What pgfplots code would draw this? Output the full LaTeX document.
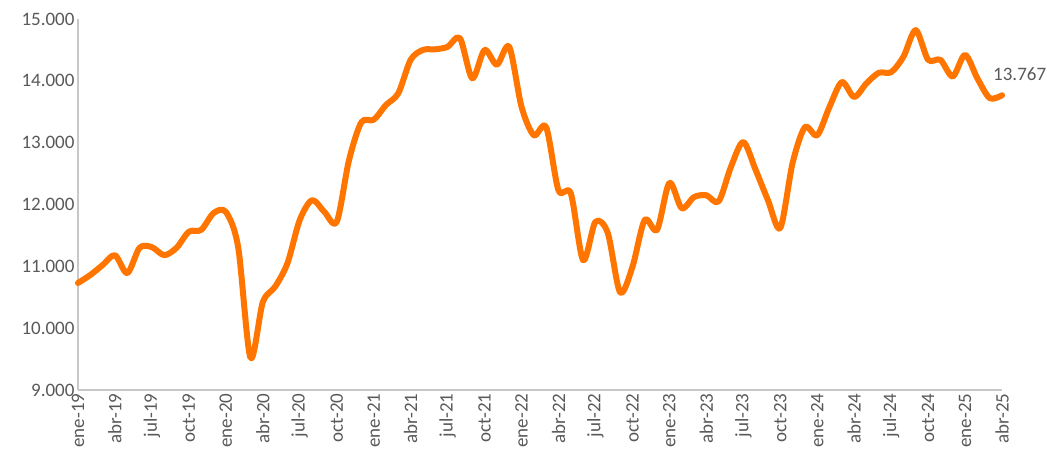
\documentclass[border=0pt]{standalone}
\usepackage{fontspec}
\setmainfont{Carlito}
\usepackage{pgfplots}
\pgfplotsset{compat=1.18}
\definecolor{lineorange}{RGB}{255,117,0}
\definecolor{axgray}{RGB}{200,200,200}
\definecolor{lblgray}{RGB}{89,89,89}
\begin{document}
\begin{tikzpicture}
\begin{axis}[
  scale only axis,
  width=924pt, height=371pt,
  xmin=0, xmax=75,
  ymin=9000, ymax=15000,
  axis lines*=left,
  axis line style={draw=axgray, line width=1.5pt},
  every tick/.style={draw=none},
  major tick length=0pt,
  scaled y ticks=false,
  ytick={9000,10000,11000,12000,13000,14000,15000},
  yticklabels={9.000,10.000,11.000,12.000,13.000,14.000,15.000},
  xtick={0,3,...,75},
  xticklabels={ene-19,abr-19,jul-19,oct-19,ene-20,abr-20,jul-20,oct-20,ene-21,abr-21,jul-21,oct-21,ene-22,abr-22,jul-22,oct-22,ene-23,abr-23,jul-23,oct-23,ene-24,abr-24,jul-24,oct-24,ene-25,abr-25},
  tick label style={font=\fontsize{19}{22}\selectfont, text=lblgray},
  x tick label style={rotate=90, anchor=east},
  clip=false,
]
\addplot[lineorange, line width=6pt, smooth, tension=0.5, line cap=round, line join=round] coordinates {
(0,10730) (1,10860) (2,11020) (3,11180) (4,10890) (5,11300) (6,11310) (7,11180) (8,11300) (9,11560) (10,11590) (11,11860)
(12,11880) (13,11310) (14,9520) (15,10420) (16,10670) (17,11050) (18,11750) (19,12070) (20,11880) (21,11720) (22,12720) (23,13330)
(24,13370) (25,13610) (26,13800) (27,14340) (28,14500) (29,14510) (30,14550) (31,14690) (32,14040) (33,14500) (34,14260) (35,14550)
(36,13580) (37,13120) (38,13250) (39,12230) (40,12180) (41,11100) (42,11720) (43,11540) (44,10580) (45,10990) (46,11750) (47,11590)
(48,12350) (49,11940) (50,12120) (51,12150) (52,12050) (53,12610) (54,13010) (55,12560) (56,12070) (57,11620) (58,12670) (59,13250)
(60,13120) (61,13580) (62,13980) (63,13740) (64,13960) (65,14130) (66,14140) (67,14390) (68,14820) (69,14340) (70,14340) (71,14070)
(72,14420) (73,14040) (74,13720) (75,13767)
};
\node[anchor=south west, inner sep=0pt, xshift=-9pt, yshift=14pt, font=\fontsize{19}{22}\selectfont, text=lblgray] at (axis cs:75,13767) {13.767};
\end{axis}
\pgfresetboundingbox
\path[use as bounding box] ([xshift=-78pt,yshift=-64pt]current axis.south west) rectangle ([xshift=45pt,yshift=19pt]current axis.north east);
\end{tikzpicture}
\end{document}
